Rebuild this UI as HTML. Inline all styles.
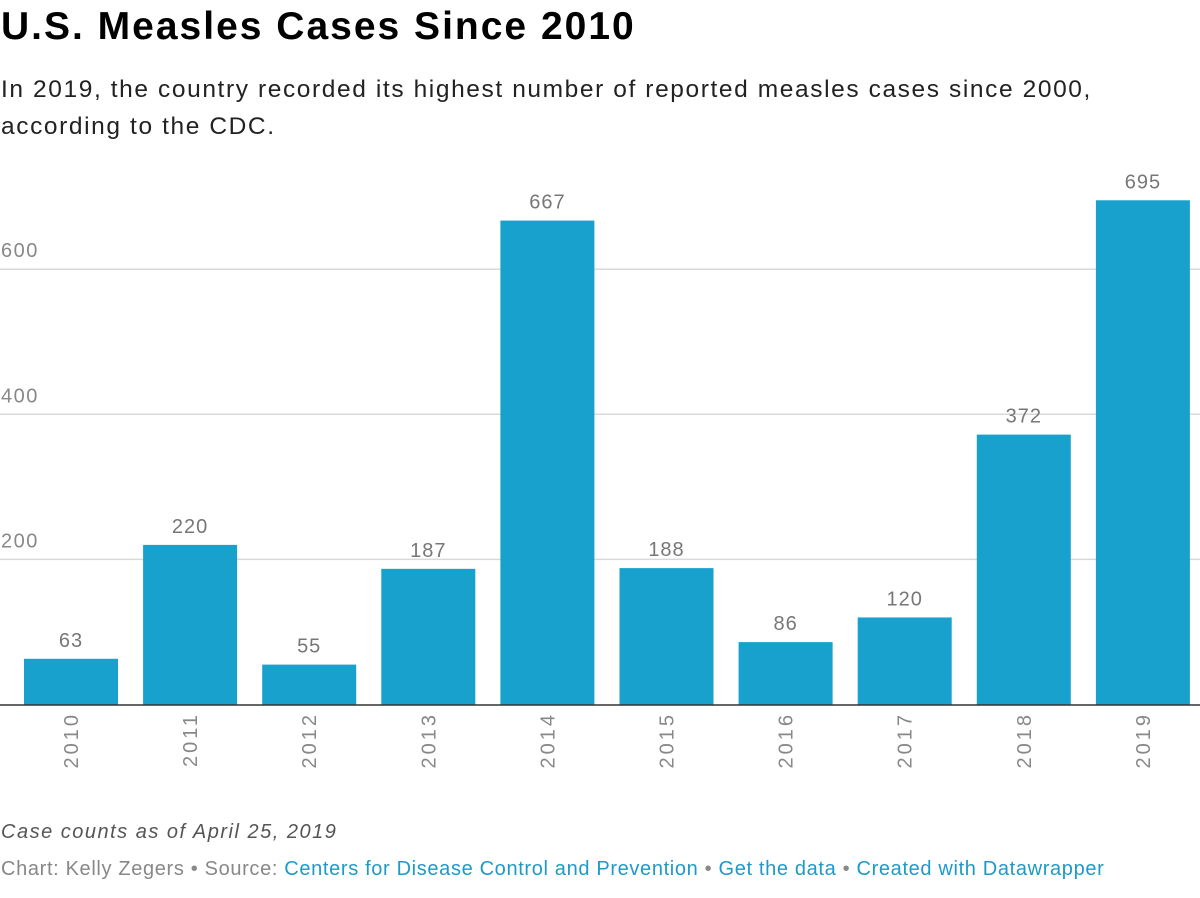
<!DOCTYPE html>
<html><head><meta charset="utf-8">
<style>
body{margin:0;width:1200px;height:898px;background:#fff;font-family:"Liberation Sans",sans-serif;overflow:hidden;position:relative}
.t{position:absolute;left:1px;white-space:nowrap}
#title{top:5px;font-size:39px;font-weight:bold;color:#000;letter-spacing:2px}
#sub{top:71px;font-size:24.5px;color:#222;line-height:37px;letter-spacing:1.6px}
#note{top:821px;font-size:20px;font-style:italic;color:#555;letter-spacing:1.5px}
#src{top:858px;font-size:20px;color:#888;letter-spacing:0.65px}
#src a{color:#1d9ac9;text-decoration:none}
svg{position:absolute;left:0;top:0}
</style></head><body>
<div class="t" id="title">U.S. Measles Cases Since 2010</div>
<div class="t" id="sub">In 2019, the country recorded its highest number of reported measles cases since 2000,<br>according to the CDC.</div>
<svg id="chart" width="1200" height="898"></svg>
<div class="t" id="note">Case counts as of April 25, 2019</div>
<div class="t" id="src">Chart: Kelly Zegers • Source: <a>Centers for Disease Control and Prevention</a> • <a>Get the data</a> • <a>Created with Datawrapper</a></div>
<script>
const categories=["2010","2011","2012","2013","2014","2015","2016","2017","2018","2019"];
const values=[63,220,55,187,667,188,86,120,372,695];
const ticks=[200,400,600];
const NS="http://www.w3.org/2000/svg";
const svg=document.getElementById('chart');
const y0=704.5, k=0.7255;
const y=v=>y0-v*k;
const x=i=>24+i*119.1;
const bw=94;
function mk(t,a){const e=document.createElementNS(NS,t);for(const n in a)e.setAttribute(n,a[n]);svg.appendChild(e);return e;}
ticks.forEach(t=>{
  const l=mk('line',{x1:0,x2:1200,y1:y(t),y2:y(t),stroke:'#d9d9d9','stroke-width':1.5});
  
  
  const tx=mk('text',{x:1,y:y(t)-12,'font-size':20,fill:'#888','letter-spacing':1.5,'font-family':'Liberation Sans, sans-serif'});
  tx.textContent=t;
  
  
});
values.forEach((v,i)=>{
  const r=mk('rect',{x:x(i),y:y(v),width:bw,height:y0-y(v),fill:'#18a1cd'});
  
  
  const tv=mk('text',{x:x(i)+bw/2,y:y(v)-12,'text-anchor':'middle','font-size':20,fill:'#777','letter-spacing':1,'font-family':'Liberation Sans, sans-serif'});
  tv.textContent=v;
  
  
  const cx=x(i)+bw/2+7;
  const tc=mk('text',{x:cx,y:712,'text-anchor':'end','font-size':20,fill:'#888','letter-spacing':3,'font-family':'Liberation Sans, sans-serif',transform:`rotate(-90 ${cx} 712)`});
  tc.textContent=categories[i];
  
  
});
const ax=mk('line',{x1:0,x2:1200,y1:y0+0.5,y2:y0+0.5,stroke:'#333','stroke-width':1.5});


</script>
</body></html>
